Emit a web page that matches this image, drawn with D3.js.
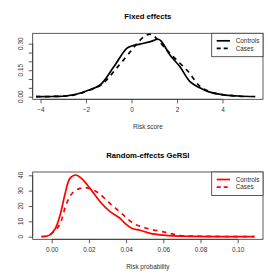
<!DOCTYPE html>
<html>
<head>
<meta charset="utf-8">
<script src="https://cdn.jsdelivr.net/npm/d3@7"></script>
<style>
  body { margin: 0; background: #fff; }
  svg { display: block; font-family: "Liberation Sans", Arial, sans-serif; }
</style>
</head>
<body>
<svg width="280" height="280"></svg>
<script>
// Fixed effects: risk score densities
var fixedCtrlX = [-4.2, -3.5, -2.9, -2.4, -1.96, -1.38, -0.8, -0.21, 0.01, 0.37, 0.8, 1.18, 1.33, 1.69, 2.13, 2.57, 3.0, 3.4, 4.04, 4.7, 5.44];
var fixedCtrlY = [0, 0.001, 0.004, 0.015, 0.034, 0.066, 0.165, 0.274, 0.287, 0.298, 0.31, 0.325, 0.311, 0.236, 0.17, 0.085, 0.05, 0.027, 0.01, 0.004, 0];
var fixedCaseX = [-4.2, -3.5, -2.9, -2.4, -2.0, -1.5, -1.24, -0.6, 0.01, 0.3, 0.67, 0.89, 1.1, 1.55, 1.91, 2.5, 3.0, 3.5, 4.0, 4.6, 5.1];
var fixedCaseY = [0, 0.001, 0.004, 0.013, 0.03, 0.055, 0.076, 0.17, 0.264, 0.31, 0.35, 0.352, 0.33, 0.264, 0.217, 0.141, 0.06, 0.025, 0.012, 0.004, 0];

// Random-effects GeRSI: risk probability densities
var randCtrlX = [-0.0055, -0.003, -0.001, 0.0018, 0.0045, 0.0072, 0.0098, 0.013, 0.016, 0.0206, 0.026, 0.0314, 0.0367, 0.0394, 0.043, 0.0475, 0.053, 0.06, 0.065, 0.075, 0.09, 0.109];
var randCtrlY = [0, 0.3, 1.2, 5, 14, 28, 38, 40.2, 38, 31.5, 22.8, 16.3, 12, 8.7, 5.5, 4.2, 2.2, 1.0, 0.5, 0.2, 0.1, 0];
var randCaseX = [-0.0055, -0.003, -0.001, 0.0018, 0.0045, 0.008, 0.0108, 0.0152, 0.0188, 0.0242, 0.0313, 0.0376, 0.0439, 0.051, 0.061, 0.069, 0.08, 0.095, 0.109];
var randCaseY = [0, 0.3, 1.2, 4, 8.5, 21.7, 28, 31.5, 31.8, 29.3, 21.7, 15.2, 8.7, 5.5, 2.9, 0.8, 0.3, 0.1, 0];

var fixedXTicks = [-4, -2, 0, 2, 4];
var fixedYTicks = [0, 0.05, 0.10, 0.15, 0.20, 0.25, 0.30];
var fixedYLabels = [0, 0.15, 0.30];
var randXTicks = [0, 0.02, 0.04, 0.06, 0.08, 0.10];
var randYTicks = [0, 10, 20, 30, 40];
var legendNames = ["Controls", "Cases"];

var svg = d3.select("svg");

function zip(xs, ys) {
    return xs.map(function(x, i) { return [x, ys[i]]; });
}

function panel(opt) {
    var g = svg.append("g");
    var box = opt.box;

    var x = d3.scaleLinear().domain(opt.xdom).range(opt.xrange);
    var y = d3.scaleLinear().domain(opt.ydom).range(opt.yrange);

    var line = d3.line()
        .x(function(d) { return x(d[0]); })
        .y(function(d) { return y(d[1]); })
        .curve(d3.curveCatmullRom.alpha(0.5));

    // curves
    g.append("path")
        .datum(zip(opt.ctrlX, opt.ctrlY))
        .attr("d", line)
        .attr("fill", "none")
        .attr("stroke", opt.color)
        .attr("stroke-width", 1.7);
    g.append("path")
        .datum(zip(opt.caseX, opt.caseY))
        .attr("d", line)
        .attr("fill", "none")
        .attr("stroke", opt.color)
        .attr("stroke-width", 1.7)
        .attr("stroke-dasharray", "4.5,4.5");

    // box
    g.append("rect")
        .attr("x", box.l).attr("y", box.t)
        .attr("width", box.r - box.l).attr("height", box.b - box.t)
        .attr("fill", "none").attr("stroke", "#333").attr("stroke-width", 0.8);

    // x axis
    var xa = g.append("g").attr("transform", "translate(0," + box.b + ")")
        .call(d3.axisBottom(x).tickValues(opt.xticks).tickSize(4).tickPadding(4)
            .tickFormat(opt.xfmt));
    xa.select(".domain").attr("d", "M" + x(opt.xticks[0]) + ",0H" + x(opt.xticks[opt.xticks.length - 1]))
        .attr("stroke", "#333").attr("stroke-width", 0.8);
    xa.selectAll(".tick line").attr("stroke", "#333").attr("stroke-width", 0.8);
    xa.selectAll("text").attr("font-size", 6.4).attr("fill", "#333").attr("font-family", null);

    // y axis
    var ya = g.append("g").attr("transform", "translate(" + box.l + ",0)")
        .call(d3.axisLeft(y).tickValues(opt.yticks).tickSize(4).tickFormat(""));
    ya.select(".domain").attr("d", "M0," + y(opt.yticks[0]) + "V" + y(opt.yticks[opt.yticks.length - 1]))
        .attr("stroke", "#333").attr("stroke-width", 0.8);
    ya.selectAll(".tick line").attr("stroke", "#333").attr("stroke-width", 0.8);
    g.selectAll(".ylab")
        .data(opt.ylabels)
        .enter().append("text")
        .attr("class", "ylab")
        .attr("transform", function(d) { return "translate(" + (box.l - 10) + "," + y(d) + ") rotate(-90)"; })
        .attr("text-anchor", "middle")
        .attr("font-size", 6.4)
        .attr("fill", "#333")
        .text(opt.yfmt);

    // titles
    g.append("text")
        .attr("x", (box.l + box.r) / 2).attr("y", box.t - 14)
        .attr("text-anchor", "middle")
        .attr("font-size", 7.7).attr("font-weight", "bold")
        .text(opt.title);
    g.append("text")
        .attr("x", (box.l + box.r) / 2).attr("y", box.b + 30)
        .attr("text-anchor", "middle")
        .attr("font-size", 6.4).attr("fill", "#333")
        .text(opt.xlab);

    // legend
    var lg = g.append("g");
    lg.append("rect")
        .attr("x", box.r - 51.3).attr("y", box.t)
        .attr("width", 51.3).attr("height", 23.4)
        .attr("fill", "#fff").attr("stroke", "#333").attr("stroke-width", 0.8);
    legendNames.forEach(function(name, i) {
        var ly = box.t + 7.5 + i * 7.6;
        lg.append("line")
            .attr("x1", box.r - 46.3).attr("x2", box.r - 33)
            .attr("y1", ly).attr("y2", ly)
            .attr("stroke", opt.color).attr("stroke-width", 1.7)
            .attr("stroke-dasharray", i === 1 ? "4,3" : null);
        lg.append("text")
            .attr("x", box.r - 27.3).attr("y", ly + 2.2)
            .attr("font-size", 6.4).attr("fill", "#333")
            .text(name);
    });
}

panel({
    box: {l: 32.7, r: 263, t: 33.3, b: 99.3},
    xdom: [-4, 4], xrange: [40.5, 222.5],
    ydom: [0, 0.3], yrange: [96.7, 43.7],
    ctrlX: fixedCtrlX, ctrlY: fixedCtrlY, caseX: fixedCaseX, caseY: fixedCaseY,
    xticks: fixedXTicks, yticks: fixedYTicks, ylabels: fixedYLabels,
    xfmt: d3.format("d"), yfmt: d3.format(".2f"),
    color: "#000", title: "Fixed effects", xlab: "Risk score"
});

panel({
    box: {l: 32.7, r: 263, t: 172, b: 239.3},
    xdom: [0, 0.1], xrange: [51.7, 237.7],
    ydom: [0, 40], yrange: [236.7, 175.3],
    ctrlX: randCtrlX, ctrlY: randCtrlY, caseX: randCaseX, caseY: randCaseY,
    xticks: randXTicks, yticks: randYTicks, ylabels: randYTicks,
    xfmt: d3.format(".2f"), yfmt: d3.format("d"),
    color: "#f00", title: "Random-effects GeRSI", xlab: "Risk probability"
});
</script>
</body>
</html>
